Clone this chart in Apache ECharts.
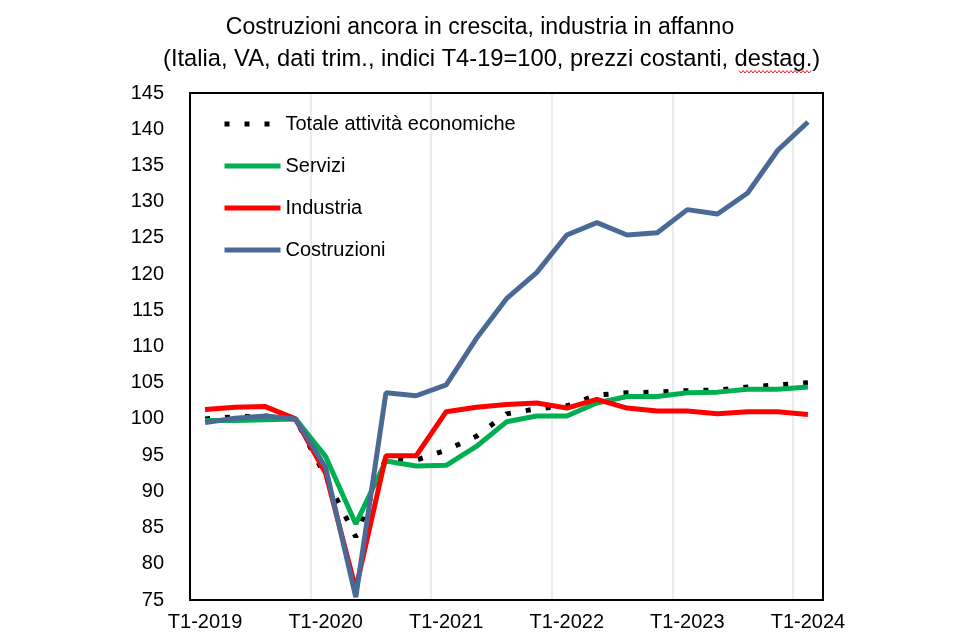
<!DOCTYPE html>
<html>
<head>
<meta charset="utf-8">
<script src="https://cdn.jsdelivr.net/npm/echarts@6/dist/echarts.min.js"></script>
<style>
  html, body { margin: 0; padding: 0; background: #fff; }
  #main { width: 960px; height: 640px; }
</style>
</head>
<body>
<div id="main"></div>
<script>
// trimestri
let categories = [
  'T1-2019', 'T2-2019', 'T3-2019', 'T4-2019',
  'T1-2020', 'T2-2020', 'T3-2020', 'T4-2020',
  'T1-2021', 'T2-2021', 'T3-2021', 'T4-2021',
  'T1-2022', 'T2-2022', 'T3-2022', 'T4-2022',
  'T1-2023', 'T2-2023', 'T3-2023', 'T4-2023',
  'T1-2024'
]

let totale = [100.0, 100.3, 100.4, 100.0, 92.0, 83.7, 94.6, 94.3, 95.7, 97.6, 100.7,
  101.4, 101.8, 103.3, 103.6, 103.7, 103.9, 104.0, 104.4, 104.7, 105.0]
let servizi = [99.8, 99.8, 99.9, 100.0, 94.8, 85.5, 94.2, 93.5, 93.6, 96.2, 99.6,
  100.4, 100.4, 102.2, 103.1, 103.1, 103.6, 103.7, 104.1, 104.1, 104.4]
let industria = [101.3, 101.6, 101.7, 100.0, 92.5, 76.5, 94.9, 94.9, 101.0, 101.6, 102.0,
  102.2, 101.5, 102.7, 101.5, 101.1, 101.1, 100.7, 101.0, 101.0, 100.6]
let costruzioni = [99.5, 100.1, 100.4, 100.0, 93.3, 75.4, 103.6, 103.2, 104.7, 111.1, 116.6,
  120.2, 125.4, 127.1, 125.4, 125.7, 128.9, 128.3, 131.2, 137.1, 141.0]

let font = "'Liberation Sans', Arial, sans-serif"

let titleStyle = {
  fontFamily: font,
  fontSize: 23,
  fontWeight: 'normal',
  color: '#000'
}

// sottolineatura ondulata rossa (correttore ortografico) sotto "destag."
let wave = []
for (let i = 0; i <= 36; i++) {
  wave.push([739 + i * 2, i % 2 === 0 ? 70.5 : 73])
}

let chart = echarts.init(document.getElementById('main'))

let option = {
  animation: false,
  title: [
    {
      text: 'Costruzioni ancora in crescita, industria in affanno',
      left: 'center',
      top: 11,
      textStyle: titleStyle
    },
    {
      text: '(Italia, VA, dati trim., indici T4-19=100, prezzi costanti, destag.)',
      left: 158,
      top: 42,
      textStyle: Object.assign({}, titleStyle, { fontSize: 23.7 })
    }
  ],
  graphic: [
    {
      type: 'polyline',
      shape: { points: wave },
      style: { stroke: '#E02020', lineWidth: 1, fill: null },
      silent: true
    }
  ],
  legend: {
    orient: 'vertical',
    left: 217,
    top: 109,
    itemWidth: 56,
    itemHeight: 14,
    itemGap: 22,
    itemStyle: { opacity: 0 },
    lineStyle: { width: 5 },
    textStyle: {
      fontFamily: font,
      fontSize: 20,
      color: '#000'
    },
    data: ['Totale attività economiche', 'Servizi', 'Industria', 'Costruzioni']
  },
  grid: {
    left: 190,
    right: 137,
    top: 93,
    bottom: 40,
    show: true,
    borderColor: '#000',
    borderWidth: 2,
    backgroundColor: 'transparent'
  },
  xAxis: [
    {
      type: 'category',
      data: categories,
      boundaryGap: true,
      axisLine: { show: true, lineStyle: { color: '#000', width: 2 } },
      axisTick: { show: false },
      axisLabel: {
        interval: 3,
        margin: 12,
        fontFamily: font,
        fontSize: 20,
        color: '#000'
      },
      splitLine: {
        show: true,
        interval: 3,
        lineStyle: { color: '#E4E4E4', width: 1.5 }
      }
    },
    {
      // solo bordo superiore
      type: 'category',
      data: categories,
      position: 'top',
      axisLine: { show: true, lineStyle: { color: '#000', width: 2 } },
      axisTick: { show: false },
      axisLabel: { show: false },
      splitLine: { show: false }
    }
  ],
  yAxis: [
    {
      type: 'value',
      min: 75,
      max: 145,
      interval: 5,
      axisLine: { show: true, lineStyle: { color: '#000', width: 2 } },
      axisTick: { show: false },
      splitLine: { show: false },
      axisLabel: {
        margin: 26,
        fontFamily: font,
        fontSize: 20,
        color: '#000'
      }
    },
    {
      // solo bordo destro
      type: 'value',
      min: 75,
      max: 145,
      interval: 5,
      position: 'right',
      axisLine: { show: true, lineStyle: { color: '#000', width: 2 } },
      axisTick: { show: false },
      splitLine: { show: false },
      axisLabel: { show: false }
    }
  ],
  series: [
    {
      name: 'Totale attività economiche',
      type: 'line',
      symbol: 'none',
      data: totale,
      lineStyle: { color: '#000', width: 5, type: [5, 15], cap: 'butt' },
      itemStyle: { color: '#000' }
    },
    {
      name: 'Servizi',
      type: 'line',
      symbol: 'none',
      data: servizi,
      lineStyle: { color: '#00B050', width: 5 },
      itemStyle: { color: '#00B050' }
    },
    {
      name: 'Industria',
      type: 'line',
      symbol: 'none',
      data: industria,
      lineStyle: { color: '#FF0000', width: 5 },
      itemStyle: { color: '#FF0000' }
    },
    {
      name: 'Costruzioni',
      type: 'line',
      symbol: 'none',
      data: costruzioni,
      lineStyle: { color: '#4A6A95', width: 5 },
      itemStyle: { color: '#4A6A95' }
    }
  ]
}

chart.setOption(option)
</script>
</body>
</html>
